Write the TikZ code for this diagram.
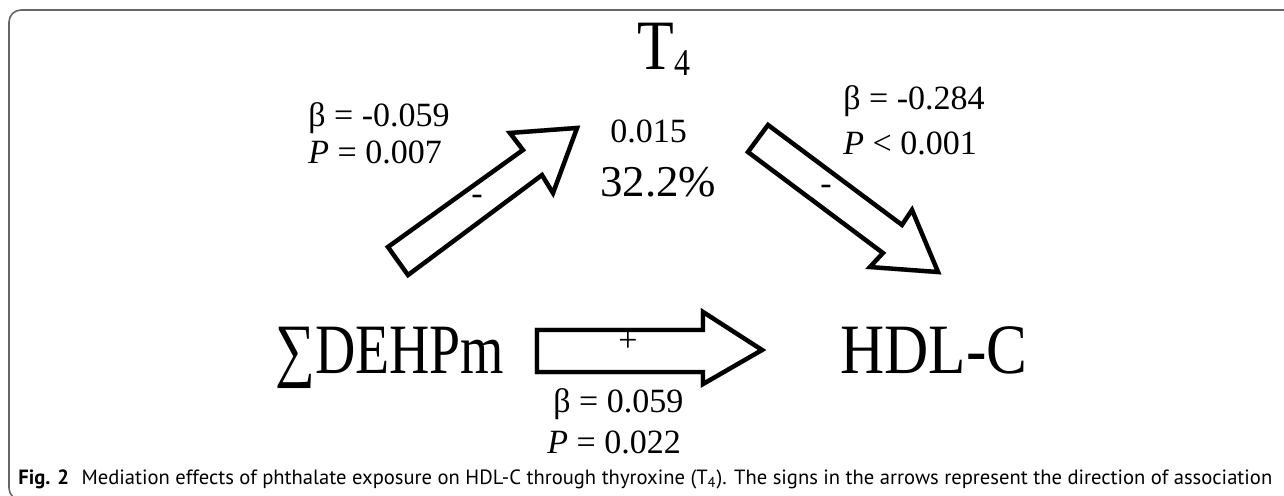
\documentclass[tikz,border=0pt]{standalone}
\usepackage{fontspec}
\setmainfont{Liberation Serif}
\newfontfamily\capfont{PT Sans}
\newcommand{\vstretch}[1]{\scalebox{1}[1.18]{#1}}
\begin{document}
\begin{tikzpicture}[x=0.5pt,y=-0.5pt,
  frame/.style={draw=black!60, line width=0.8pt, rounded corners=6pt},
  blockarrow/.style={draw=black, line width=2.2pt, fill=white, line join=miter, miter limit=20},
  arrowshadow/.style={draw=black!30, line width=2.4pt, line join=miter, miter limit=20},
  lbl/.style={inner sep=0pt, anchor=base west, font=\fontsize{17}{17}\selectfont},
  bigtxt/.style={inner sep=0pt, anchor=base west, font=\fontsize{30}{30}\selectfont},
  signtxt/.style={inner sep=0pt, font=\fontsize{17}{17}\selectfont},
  captxt/.style={inner sep=0pt, anchor=base west, font=\capfont\fontsize{10.3}{12}\selectfont}]
\useasboundingbox (0,0) rectangle (1284,496);
\begin{scope}
  \clip (0,0) rectangle (1284,496);
  \draw[frame] (1300,10) -- (9,10) -- (9,500) -- (200,500);
\end{scope}

% text nodes
\node[bigtxt] (t4) at (637,70) {\vstretch{T\raisebox{-2.5pt}{\fontsize{16}{16}\selectfont 4}}};
\node[inner sep=0pt, anchor=base west, font=\fontsize{17}{17}\selectfont] (ie) at (610,143) {0.015};
\node[inner sep=0pt, anchor=base west, font=\fontsize{22}{22}\selectfont] (pct) at (600,197) {\scalebox{1.02}[1]{32.2\%}};
\node[bigtxt] (dehp) at (275,373) {\scalebox{0.93}[1.18]{∑DEHPm}};
\node[bigtxt] (hdl) at (840,373) {\vstretch{\scalebox{1.02}[1]{HDL-C}}};

\node[lbl] (b1) at (308,127) {β = -0.059};
\node[lbl] (p1) at (308,164) {\textit{P} = 0.007};
\node[lbl] (b2) at (843,110) {β = -0.284};
\node[lbl] (p2) at (843,155) {\textit{P} < 0.001};
\node[lbl] (b3) at (553,413) {β = 0.059};
\node[lbl] (p3) at (547,453) {\textit{P} = 0.022};

% arrow 1: DEHPm -> T4
\coordinate (a1t1) at (388,247);
\coordinate (a1t2) at (408,275);
\coordinate (a1n1) at (542,175);
\coordinate (a1b1) at (553,193);
\coordinate (a1tip) at (577,128);
\coordinate (a1b2) at (510,133);
\coordinate (a1n2) at (523,150);
% arrow 2: T4 -> HDL-C
\coordinate (a2t1) at (768,125);
\coordinate (a2t2) at (748,152);
\coordinate (a2n1) at (883,253);
\coordinate (a2b1) at (870,267);
\coordinate (a2tip) at (938,272);
\coordinate (a2b2) at (912,210);
\coordinate (a2n2) at (902,225);
% arrow 3: DEHPm -> HDL-C
\coordinate (a3t1) at (537,330);
\coordinate (a3t2) at (537,372);
\coordinate (a3n1) at (703,372);
\coordinate (a3b1) at (703,384);
\coordinate (a3tip) at (762,350);
\coordinate (a3b2) at (703,312);
\coordinate (a3n2) at (703,330);

\foreach \a in {a1,a2,a3}{
  \draw[arrowshadow, shift={(2,3)}] (\a t1) -- (\a t2) -- (\a n1) -- (\a b1) -- (\a tip) -- (\a b2) -- (\a n2) -- cycle;
  \draw[blockarrow] (\a t1) -- (\a t2) -- (\a n1) -- (\a b1) -- (\a tip) -- (\a b2) -- (\a n2) -- cycle;
}

\node[signtxt] (s1) at (477,200) {-};
\node[signtxt] (s2) at (826,190) {-};
\node[signtxt] (s3) at (628,342) {+};

\node[captxt] (caption) at (18,484) {\textbf{Fig. 2}\hspace{0.6em}Mediation effects of phthalate exposure on HDL-C through thyroxine (T\textsubscript{4}). The signs in the arrows represent the direction of association};
\end{tikzpicture}
\end{document}
